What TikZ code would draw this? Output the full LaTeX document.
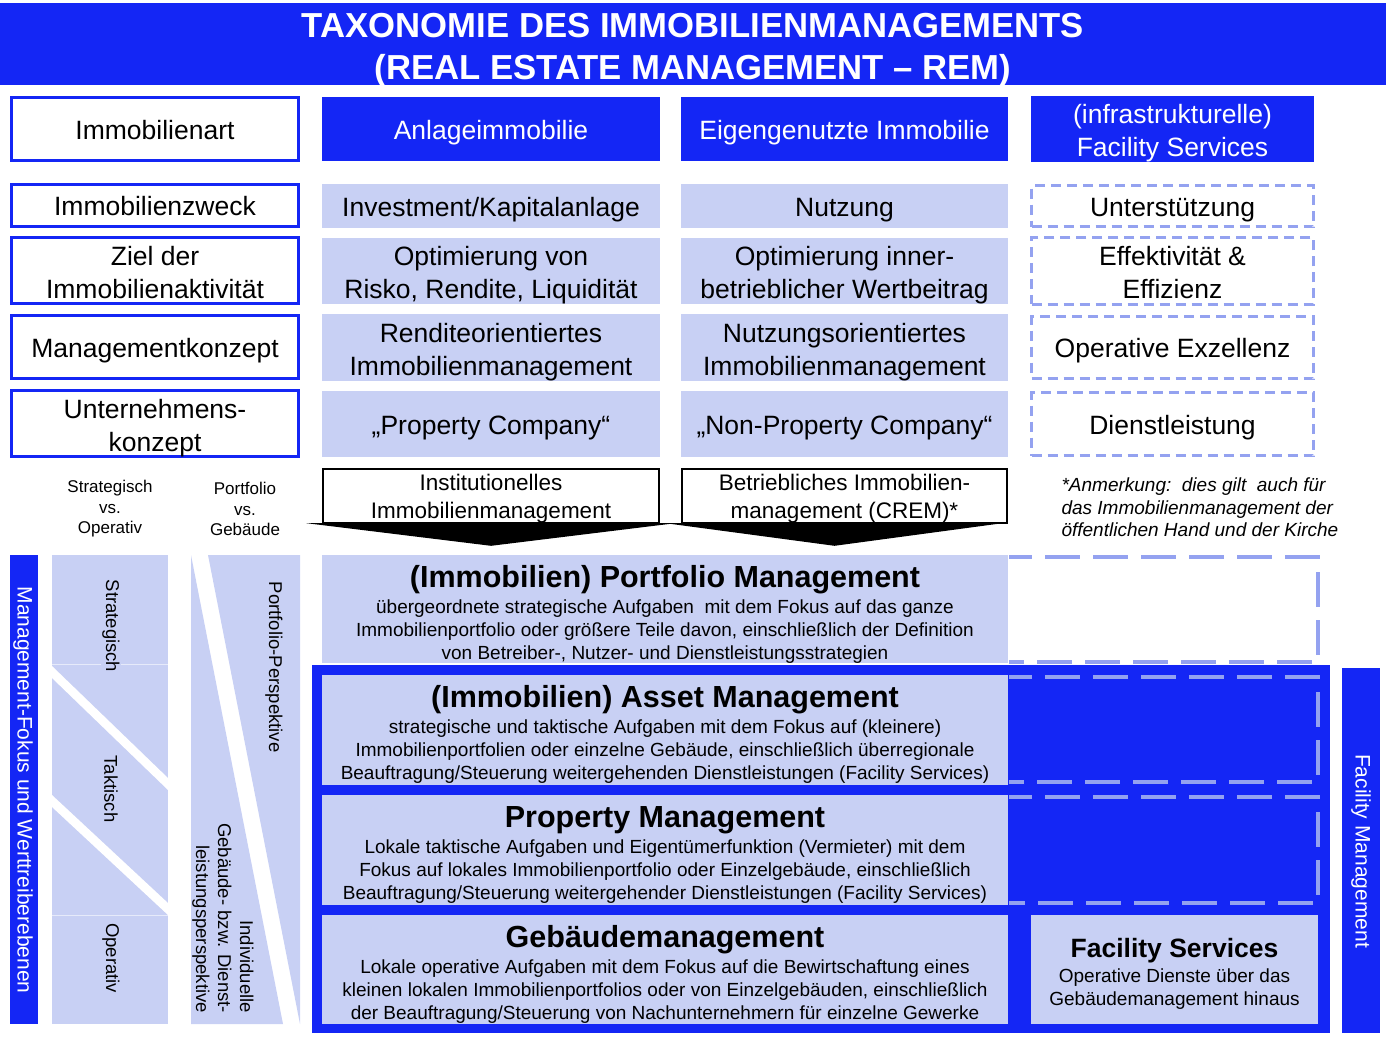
\documentclass[tikz,border=0pt]{standalone}
\usepackage{fontspec}
\setmainfont{Liberation Sans}

\definecolor{remblue}{RGB}{20,38,245}
\definecolor{remlight}{RGB}{200,208,244}
\definecolor{remdash}{RGB}{148,162,240}

\tikzset{
  boxstrut/.style={execute at begin node={\rule{0pt}{0.98em}}, execute at end node={\rule[-0.21em]{0pt}{0.21em}}},
  twoline/.style={execute at begin node={\rule{0pt}{#1}}},
  twoline/.default=2.31em,
  rowfont/.style={font=\fontsize{26.5}{33}\selectfont, boxstrut},
  titletext/.style={text=white, align=center, font=\bfseries\fontsize{34.7}{42}\selectfont},
  leftbox/.style={draw=remblue, line width=3pt, fill=white, rowfont, align=center, inner sep=0pt, minimum width=287pt},
  headbox/.style={fill=remblue, text=white, rowfont, align=center, inner sep=0pt},
  cellbox/.style={fill=remlight, rowfont, align=center, inner sep=0pt},
  fsbox/.style={draw=remdash, line width=3pt, dash pattern=on 10pt off 6pt, rowfont, align=center, inner sep=0pt, minimum width=282pt},
  crembox/.style={draw=black, line width=2pt, fill=white, align=center, inner sep=0pt, minimum width=336pt, minimum height=52pt, font=\fontsize{22.5}{28}\selectfont, boxstrut, twoline=2.2em},
  smalllabel/.style={align=center, font=\fontsize{17}{20.5}\selectfont},
  notetext/.style={align=left, anchor=west, font=\itshape\fontsize{19}{22.5}\selectfont},
  blockbox/.style={fill=remlight, inner sep=0pt, minimum width=686pt, minimum height=110pt},
  blocktitle/.style={font=\bfseries\fontsize{30.5}{36}\selectfont},
  blocktext/.style={align=center, font=\fontsize{19}{23}\selectfont},
  sidetext/.style={rotate=-90, inner sep=1pt, font=\fontsize{18.5}{22}\selectfont},
  bartext/.style={rotate=-90, text=white, font=\fontsize{21}{24}\selectfont},
  fmdash/.style={draw=remdash, line width=4pt, dash pattern=on 35pt off 13pt, dash phase=12pt},
}

\begin{document}
\begin{tikzpicture}[x=1pt, y=-1pt]
\useasboundingbox (0,0) rectangle (1388,1042);

    % TITLE
    \fill[remblue] (0,3) rectangle (1386,85);
    \node[titletext] (title) at (693,50) {TAXONOMIE DES IMMOBILIENMANAGEMENTS\\(REAL ESTATE MANAGEMENT – REM)};

    % LEFT COLUMN (criteria)
    \node[leftbox, minimum height=63pt] (art) at (155,129) {Immobilienart};
    \node[leftbox, minimum height=42pt] (zweck) at (155,205.5) {Immobilienzweck};
    \node[leftbox, twoline, minimum height=64pt] (ziel) at (155,270.5) {Ziel der\\Immobilienaktivität};
    \node[leftbox, minimum height=63pt] (konzept) at (155,347) {Managementkonzept};
    \node[leftbox, twoline, minimum height=64pt] (unternehmen) at (155,423.5) {Unternehmens-\\konzept};

    % ANLAGEIMMOBILIE
    \node[headbox, minimum width=338pt, minimum height=64pt] (anlage) at (491,129) {Anlageimmobilie};
    \node[cellbox, minimum width=338pt, minimum height=44pt] (invest) at (491,206) {Investment/Kapitalanlage};
    \node[cellbox, twoline, minimum width=338pt, minimum height=66pt] (risiko) at (491,271) {Optimierung von\\Risko, Rendite, Liquidität};
    \node[cellbox, twoline, minimum width=338pt, minimum height=65pt] (rendite) at (491,347.5) {Renditeorientiertes\\Immobilienmanagement};
    \node[cellbox, minimum width=338pt, minimum height=66pt] (propco) at (491,424) {„Property Company“};

    % EIGENGENUTZTE IMMOBILIE
    \node[headbox, minimum width=327pt, minimum height=64pt] (eigen) at (844.5,129) {Eigengenutzte Immobilie};
    \node[cellbox, minimum width=327pt, minimum height=44pt] (nutzung) at (844.5,206) {Nutzung};
    \node[cellbox, twoline, minimum width=327pt, minimum height=66pt] (wert) at (844.5,271) {Optimierung inner-\\betrieblicher Wertbeitrag};
    \node[cellbox, twoline, minimum width=327pt, minimum height=65pt] (nutzorient) at (844.5,347.5) {Nutzungsorientiertes\\Immobilienmanagement};
    \node[cellbox, minimum width=327pt, minimum height=66pt] (nonprop) at (844.5,424) {„Non-Property Company“};

    % FACILITY SERVICES (dashed)
    \node[headbox, twoline, minimum width=283pt, minimum height=66pt] (infra) at (1172.5,129) {(infrastrukturelle)\\Facility Services};
    \node[fsbox, minimum height=41pt] (unterst) at (1172.5,206) {Unterstützung};
    \node[fsbox, twoline, minimum height=63pt] (effekt) at (1172.5,271) {Effektivität \&\\Effizienz};
    \node[fsbox, minimum height=62pt] (exzellenz) at (1172.5,347.5) {Operative Exzellenz};
    \node[fsbox, minimum height=63pt] (dienst) at (1172.5,424) {Dienstleistung};

    % SMALL LABELS + ARROW BOXES
    \node[smalllabel] (svo) at (110,509) {Strategisch\\vs.\\Operativ};
    \node[smalllabel] (pvg) at (245,509) {Portfolio\\vs.\\Gebäude};
    \node[crembox] (inst) at (491,496) {Institutionelles\\Immobilienmanagement};
    \node[crembox, minimum width=325pt] (crem) at (844.5,496) {Betriebliches Immobilien-\\management (CREM)*};
    \node[notetext] (anm) at (1058,507.5) {*Anmerkung:\ \ dies gilt\ \ auch für\\das Immobilienmanagement der\\öffentlichen Hand und der Kirche};

    % MAIN BLOCKS
    \node[blockbox, minimum height=108pt] (pfm) at (665,609) {};
    \fill[remblue] (312,665) rectangle (1330,1033);
    \node[blockbox] (am) at (665,730) {};
    \node[blockbox] (pm) at (665,850) {};
    \node[blockbox, minimum height=109pt] (gm) at (665,969.5) {};
    \node[blockbox, minimum width=287pt, minimum height=109pt] (fsv) at (1174.5,969.5) {};

    % arrows into portfolio management
    \fill[black] ([xshift=-16pt,yshift=1pt]inst.south west) -- ([xshift=16pt,yshift=1pt]inst.south east)
        -- ([yshift=9pt]inst.south |- pfm.north) -- cycle;
    \fill[black] ([xshift=-16pt,yshift=1pt]crem.south west) -- ([xshift=-5pt,yshift=1pt]crem.south east)
        -- ([xshift=-10pt,yshift=9pt]crem.south |- pfm.north) -- cycle;

    % dashed facility management parts
    \draw[fmdash] (1009,557) -- (1318,557) -- (1318,662) -- (1009,662);
    \draw[fmdash] (1009,677) -- (1318,677) -- (1318,782) -- (1009,782);
    \draw[fmdash] (1009,797) -- (1318,797) -- (1318,903) -- (1009,903);

    % block texts
    \node[blocktitle] (pfmtitle) at (665,580) {(Immobilien) Portfolio Management};
    \node[blocktext] (pfmtext) at (665,632) {übergeordnete strategische Aufgaben\ \ mit dem Fokus auf das ganze\\Immobilienportfolio oder größere Teile davon, einschließlich der Definition\\von Betreiber-, Nutzer- und Dienstleistungsstrategien};
    \node[blocktitle] (amtitle) at (665,700) {(Immobilien) Asset Management};
    \node[blocktext] (amtext) at (665,752) {strategische und taktische Aufgaben mit dem Fokus auf (kleinere)\\Immobilienportfolien oder einzelne Gebäude, einschließlich überregionale\\Beauftragung/Steuerung weitergehenden Dienstleistungen (Facility Services)};
    \node[blocktitle] (pmtitle) at (665,820) {Property Management};
    \node[blocktext] (pmtext) at (665,872) {Lokale taktische Aufgaben und Eigentümerfunktion (Vermieter) mit dem\\Fokus auf lokales Immobilienportfolio oder Einzelgebäude, einschließlich\\Beauftragung/Steuerung weitergehender Dienstleistungen (Facility Services)};
    \node[blocktitle] (gmtitle) at (665,940) {Gebäudemanagement};
    \node[blocktext] (gmtext) at (665,992) {Lokale operative Aufgaben mit dem Fokus auf die Bewirtschaftung eines\\kleinen lokalen Immobilienportfolios oder von Einzelgebäuden, einschließlich\\der Beauftragung/Steuerung von Nachunternehmern für einzelne Gewerke};
    \node[blocktitle, font=\bfseries\fontsize{26.5}{32}\selectfont] (fsvtitle) at (1174.5,951) {Facility Services};
    \node[blocktext] (fsvtext) at (1174.5,989.5) {Operative Dienste über das\\Gebäudemanagement hinaus};

    % LEFT SIDE BARS
    \fill[remblue] (10,555) rectangle (38,1024);
    \node[bartext] (mfw) at (23,790) {Management-Fokus und Werttreiberebenen};

    % strategisch / taktisch / operativ
    \fill[remlight] (52,555) rectangle (168,1024);
    \draw[white!55!remlight, line width=1pt] (52,664) -- (168,664) (52,915) -- (168,915);
    \fill[white] (52,666) -- (168,778) -- (168,790) -- (52,678) -- cycle;
    \fill[white] (52,795) -- (168,903) -- (168,915) -- (52,807) -- cycle;
    \node[sidetext, fill=remlight] (strat) at (111,626) {Strategisch};
    \node[sidetext] (takt) at (111,789) {Taktisch};
    \node[sidetext, fill=remlight] (oper) at (111,958) {Operativ};

    % portfolio / gebaeude
    \fill[remlight] (191,555) -- (191,1024) -- (283,1024) -- cycle;
    \fill[remlight] (208,555) -- (300,555) -- (300,1024) -- cycle;
    \node[sidetext] (pfp) at (274,667) {Portfolio-Perspektive};
    \node[sidetext, align=right] (gdp) at (223,918) {Individuelle\\Gebäude- bzw. Dienst-\\leistungsperspektive};

    % RIGHT SIDE BAR
    \fill[remblue] (1342,668) rectangle (1380,1033);
    \node[bartext] (fm) at (1361,851) {Facility Management};

\end{tikzpicture}
\end{document}
